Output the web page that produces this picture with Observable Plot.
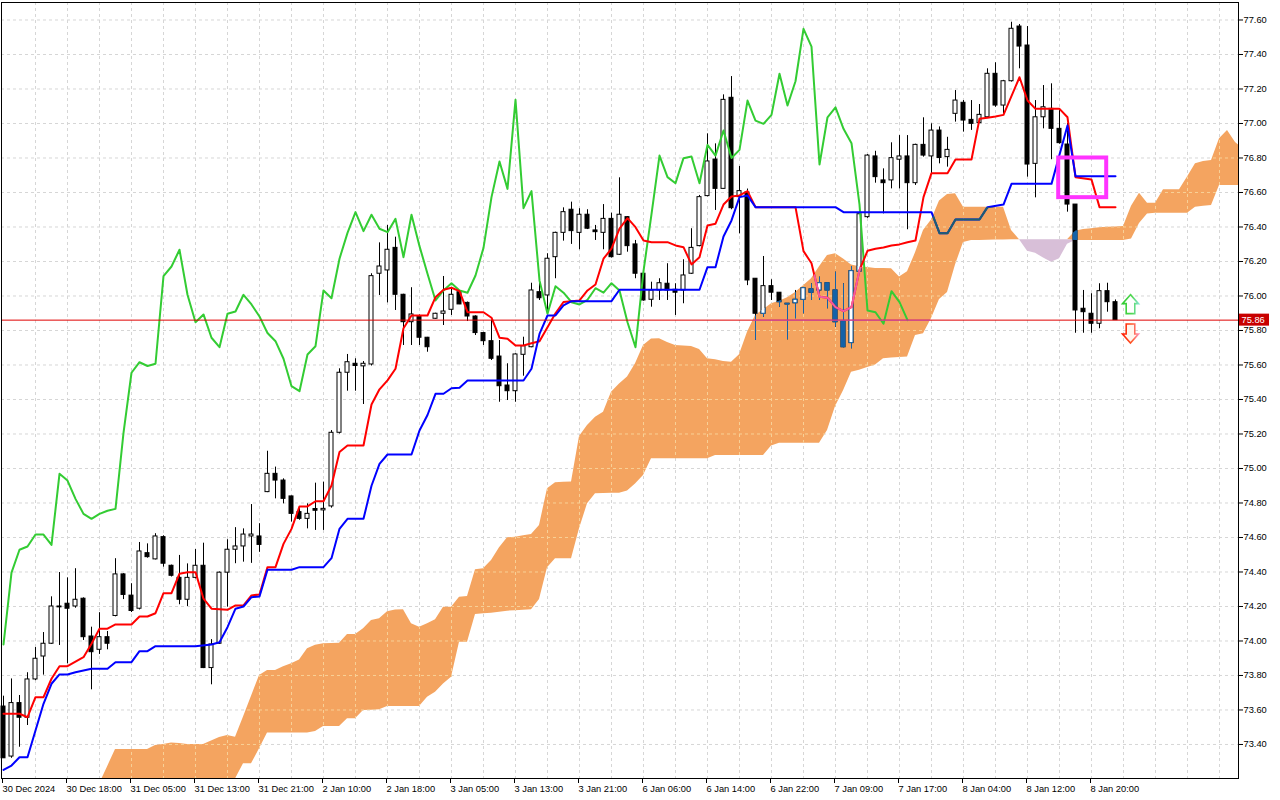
<!DOCTYPE html>
<html><head><meta charset="utf-8">
<script src="https://cdn.jsdelivr.net/npm/d3@7"></script>
<script src="https://cdn.jsdelivr.net/npm/@observablehq/plot@0.6"></script>
<style>html,body{margin:0;padding:0;background:#fff;overflow:hidden}</style>
</head><body><div id="chart"></div>
<script>
// ---- candles (bar index 0..139) ----
const opens = [73.62,73.33,73.64,73.555,73.777,73.91,73.984,74.195,74.216,74.20,
74.245,74.026,73.949,74.022,74.145,74.386,74.263,74.187,74.509,74.473,
74.602,74.436,74.366,74.239,74.366,74.436,73.843,73.984,74.396,74.529,
74.548,74.606,74.606,74.863,74.969,74.93,74.838,74.747,74.708,74.765,
74.757,74.78,75.207,75.555,75.607,75.592,75.603,76.129,76.148,76.279,
76.007,75.848,75.881,75.758,75.868,75.897,75.92,76.022,75.96,75.881,
75.785,75.738,75.649,75.481,75.448,75.659,75.703,76.022,76.003,76.225,
76.366,76.50,76.366,76.471,76.38,76.366,76.447,76.239,76.457,76.299,
76.129,75.978,76.032,76.071,76.036,76.032,76.129,76.289,76.579,76.791,
76.621,77.149,76.573,76.60,76.10,75.897,76.057,76.019,75.955,75.958,
75.978,76.038,76.032,76.074,76.032,75.852,75.727,76.141,76.457,76.809,
76.67,76.67,76.79,76.809,76.654,76.876,76.809,76.959,76.805,77.056,
77.12,77.021,77.002,77.036,77.288,77.104,77.245,77.562,77.452,76.766,
77.036,77.085,76.969,76.878,76.53,75.926,75.897,75.839,76.028,75.964];
const highs = [73.68,73.78,73.684,73.816,73.962,74.049,74.256,74.397,74.366,74.419,
74.25,74.08,74.164,74.055,74.477,74.39,74.332,74.571,74.563,74.622,
74.61,74.44,74.496,74.447,74.53,74.567,74.008,74.40,74.587,74.657,
74.65,74.791,74.68,75.10,75.008,74.94,74.84,74.776,74.795,74.915,
74.921,75.22,75.578,75.661,75.636,75.62,76.129,76.308,76.409,76.341,
76.01,76.048,75.89,75.76,75.90,76.113,76.048,76.03,75.965,75.885,
75.79,75.858,75.742,75.607,75.665,75.761,76.074,76.074,76.245,76.37,
76.511,76.544,76.506,76.50,76.409,76.53,76.48,76.685,76.46,76.322,
76.13,76.08,76.10,76.187,76.071,76.21,76.39,76.583,76.94,76.882,
77.166,77.272,76.751,76.62,76.10,76.229,76.094,76.02,75.955,76.032,
76.05,76.07,76.109,76.075,76.138,76.071,76.171,76.48,76.82,76.839,
76.737,76.888,76.93,76.93,76.88,77.033,76.998,76.98,76.92,77.191,
77.133,77.133,77.11,77.317,77.352,77.25,77.587,77.574,77.562,77.133,
77.22,77.23,77.075,77.00,76.53,76.032,76.013,76.071,76.074,75.977];
const lows = [73.32,73.32,73.384,73.51,73.77,73.802,73.98,73.974,73.868,74.19,
74.003,73.717,73.922,73.949,74.14,74.24,74.165,74.18,74.48,74.47,
74.428,74.371,74.21,74.20,74.36,73.84,73.746,73.98,74.196,74.448,
74.457,74.45,74.514,74.86,74.824,74.795,74.689,74.70,74.65,74.641,
74.641,74.77,75.20,75.448,75.448,75.371,75.594,76.003,75.96,75.916,
75.713,75.713,75.713,75.674,75.865,75.829,75.887,75.95,75.852,75.771,
75.713,75.626,75.384,75.394,75.384,75.535,75.70,75.974,75.897,76.10,
76.318,76.299,76.268,76.385,76.322,76.268,76.22,76.235,76.254,76.10,
75.97,75.935,75.974,75.974,75.887,75.955,76.125,76.285,76.575,76.496,
76.62,76.50,76.36,76.06,75.742,75.877,75.974,75.935,75.746,75.868,
75.897,75.974,75.974,75.926,75.819,75.70,75.694,76.13,76.45,76.654,
76.476,76.621,76.621,76.384,76.641,76.805,76.708,76.766,76.747,77.008,
76.95,76.96,77.0,77.03,77.094,77.056,77.24,77.317,76.689,76.569,
76.969,76.79,76.88,76.486,75.784,75.784,75.784,75.81,75.906,75.86];
const closes = [73.32,73.64,73.555,73.777,73.897,73.984,74.20,74.20,74.187,74.239,
74.022,73.935,74.022,73.984,74.386,74.267,74.174,74.519,74.486,74.606,
74.448,74.378,74.239,74.366,74.436,73.843,73.98,74.396,74.529,74.548,
74.617,74.617,74.557,74.969,74.93,74.824,74.737,74.708,74.737,74.755,
74.766,75.207,75.555,75.616,75.594,75.607,76.115,76.171,76.268,76.007,
75.848,75.893,75.758,75.703,75.897,75.91,76.007,75.951,75.881,75.785,
75.738,75.636,75.477,75.448,75.661,75.709,76.032,75.987,76.216,76.366,
76.486,76.376,76.471,76.39,76.37,76.447,76.225,76.471,76.289,76.129,
75.974,76.032,76.074,76.032,76.019,76.119,76.279,76.573,76.78,76.621,
77.137,76.509,76.608,76.09,75.897,76.057,76.019,75.964,75.951,75.978,
76.045,76.019,76.074,76.032,75.848,75.703,76.144,76.474,76.814,76.689,
76.654,76.799,76.809,76.654,76.876,76.814,76.959,76.80,76.847,77.133,
77.017,76.998,77.05,77.288,77.104,77.245,77.549,77.446,76.762,77.036,
77.094,76.969,76.886,76.53,75.916,75.906,75.839,76.028,75.964,75.86];

// ---- Tenkan-sen [bar, value] ----
const tenkanPts = [[0,73.578],[2,73.578],[3,73.558],[4,73.674],[5,73.674],[6,73.781],[7,73.854],[8,73.854],
[10,73.906],[11,73.984],[12,74.071],[13,74.071],[14,74.096],[16,74.096],[17,74.142],[18,74.142],[19,74.161],
[20,74.277],[21,74.277],[22,74.390],[23,74.399],[24,74.399],[25,74.245],[26,74.187],[28,74.181],[29,74.206],
[30,74.206],[31,74.264],[32,74.270],[33,74.428],[34,74.428],[35,74.563],[36,74.650],[37,74.780],[38,74.780],
[39,74.810],[40,74.810],[41,74.901],[42,75.095],[43,75.133],[45,75.133],[46,75.371],[47,75.459],[48,75.511],
[49,75.578],[50,75.813],[51,75.887],[53,75.887],[54,75.993],[55,76.036],[56,76.048],[57,76.028],[58,75.906],
[60,75.906],[61,75.874],[62,75.758],[63,75.752],[64,75.713],[65,75.713],[66,75.726],[67,75.738],[68,75.819],
[69,75.900],[70,75.965],[71,75.970],[72,75.974],[73,76.032],[74,76.067],[75,76.216],[76,76.274],[77,76.390],
[78,76.451],[79,76.399],[80,76.322],[81,76.312],[83,76.312],[84,76.293],[85,76.283],[86,76.183],[87,76.225],
[88,76.409],[89,76.419],[90,76.530],[91,76.577],[92,76.583],[93,76.608],[94,76.515],[99,76.515],[100,76.26],
[101,76.19],[102,75.995],[103,75.99],[104,75.935],[105,75.912],[106,75.935],[107,76.15],[108,76.262],
[109,76.274],[110,76.281],[111,76.293],[112,76.299],[113,76.312],[114,76.322],[115,76.573],[116,76.712],
[118,76.712],[119,76.791],[121,76.791],[122,77.027],[123,77.033],[124,77.040],[125,77.050],[127,77.268],
[128,77.133],[129,77.085],[132,77.085],[133,77.036],[134,76.689],[136,76.675],[137,76.515],[139,76.515]];

// ---- Kijun-sen [bar, value] ----
const kijunPts = [[0,73.253],[1,73.278],[2,73.326],[3,73.326],[4,73.481],[5,73.636],[6,73.752],[7,73.806],
[8,73.806],[9,73.819],[11,73.839],[13,73.839],[14,73.877],[16,73.877],[17,73.941],[18,73.941],[19,73.970],
[24,73.970],[26,73.980],[27,73.993],[28,74.080],[29,74.187],[30,74.200],[31,74.254],[32,74.258],[33,74.413],
[36,74.413],[37,74.428],[40,74.428],[41,74.480],[42,74.650],[43,74.708],[45,74.708],[46,74.900],[47,75.027],
[48,75.081],[51,75.081],[52,75.22],[53,75.31],[54,75.433],[55,75.433],[56,75.465],[57,75.468],[58,75.510],
[65,75.510],[66,75.578],[67,75.78],[68,75.887],[69,75.887],[70,75.945],[71,75.970],[76,75.970],[77,76.036],
[87,76.036],[88,76.167],[89,76.167],[90,76.345],[91,76.438],[92,76.573],[93,76.583],[94,76.515],[104,76.515],
[105,76.486],[116,76.486],[117,76.364],[118,76.364],[119,76.443],[122,76.443],[123,76.515],[125,76.530],
[126,76.650],[131,76.650],[133,76.988],[134,76.694],[139,76.694]];

// ---- Kumo: Senkou Span A / B, displayed from bar 12 to 155 ----
const cloudStart = 12;
const spanA = [73.17,73.27,73.371,73.371,73.371,73.371,73.371,73.394,
73.40,73.408,73.405,73.40,73.40,73.40,73.42,73.44,73.452,73.442,
73.56,73.68,73.80,73.829,73.829,73.85,73.868,73.89,73.955,73.975,
73.984,73.985,73.987,74.038,74.038,74.071,74.119,74.129,74.17,74.18,
74.181,74.10,74.08,74.10,74.123,74.196,74.196,74.254,74.258,74.413,
74.419,74.467,74.54,74.598,74.602,74.61,74.617,74.67,74.882,74.917,
74.92,74.921,75.186,75.249,75.297,75.326,75.442,75.49,75.53,75.607,
75.713,75.75,75.752,75.73,75.713,75.71,75.707,75.69,75.636,75.63,
75.62,75.616,75.66,75.79,75.887,75.92,75.955,75.97,75.99,76.02,
76.06,76.10,76.17,76.235,76.245,76.215,76.18,76.17,76.165,76.16,
76.16,76.158,76.11,76.14,76.25,76.38,76.44,76.55,76.588,76.592,
76.515,76.515,76.515,76.515,76.515,76.515,76.38,76.326,76.26,76.248,
76.22,76.196,76.216,76.30,76.376,76.385,76.39,76.395,76.399,76.40,
76.403,76.52,76.596,76.538,76.538,76.616,76.616,76.616,76.69,76.766,
76.78,76.786,76.911,76.959,76.89,76.85];
const spanB = [73.0,73.0,73.0,73.0,73.0,73.0,73.0,73.0,
73.0,73.0,73.0,73.0,73.0,73.0,73.0,73.0,73.12,73.20,
73.288,73.288,73.375,73.466,73.466,73.466,73.466,73.466,73.466,73.475,
73.504,73.504,73.504,73.549,73.549,73.597,73.598,73.601,73.62,73.62,
73.62,73.62,73.62,73.674,73.703,73.75,73.79,73.993,73.993,74.154,
74.158,74.161,74.167,74.173,74.176,74.178,74.181,74.24,74.424,74.477,
74.477,74.477,74.65,74.795,74.853,74.855,74.856,74.857,74.87,74.91,
74.96,75.056,75.056,75.056,75.056,75.056,75.056,75.056,75.056,75.075,
75.075,75.075,75.075,75.075,75.075,75.075,75.13,75.147,75.147,75.147,
75.147,75.147,75.147,75.22,75.36,75.45,75.558,75.57,75.585,75.60,
75.636,75.64,75.643,75.646,75.771,75.781,75.87,75.98,76.02,76.18,
76.31,76.322,76.322,76.323,76.324,76.325,76.326,76.326,76.326,76.326,
76.326,76.326,76.326,76.326,76.322,76.322,76.322,76.322,76.322,76.322,
76.322,76.33,76.42,76.476,76.48,76.48,76.48,76.48,76.48,76.515,
76.52,76.525,76.641,76.641,76.641,76.641];

// ---- axes / annotations ----
const xTickBars = [0,8,16,24,32,40,48,56,64,72,80,88,96,104,112,120,128,136];
const xTickLabels = ["30 Dec 2024","30 Dec 18:00","31 Dec 05:00","31 Dec 13:00","31 Dec 21:00",
"2 Jan 10:00","2 Jan 18:00","3 Jan 05:00","3 Jan 13:00","3 Jan 21:00","6 Jan 06:00","6 Jan 14:00",
"6 Jan 22:00","7 Jan 09:00","7 Jan 17:00","8 Jan 04:00","8 Jan 12:00","8 Jan 20:00"];
const yTicks = [73.4,73.6,73.8,74.0,74.2,74.4,74.6,74.8,75.0,75.2,75.4,75.6,75.8,76.0,76.2,76.4,76.6,76.8,77.0,77.2,77.4,77.6];
const lastPrice = 75.86;
const highlightBox = [{x1:131.9, x2:137.9, y1:76.57, y2:76.80}];
const upArrow = {bar:141, price:75.95};
const downArrow = {bar:141, price:75.78};

// ---- tables ----
const candles = opens.map((o, i) => ({i, open:o, high:highs[i], low:lows[i], close:closes[i]}));
const cloud = spanA.map((a, j) => ({k: cloudStart + j, A: a, B: spanB[j]}));
const gridX = d3.range(4, 155, 4);

const FONT = "Liberation Sans, Arial, sans-serif";
const grid = (stroke, extra={}) => [
  Plot.ruleX(gridX, {stroke, strokeDasharray:"3,3", ...extra}),
  Plot.ruleY(yTicks, {stroke, strokeDasharray:"3,3", ...extra})
];
const candleMarks = (col, extra={}) => [
  Plot.ruleX(candles, {x:"i", y1:"low", y2:"high", stroke:col, ...extra}),
  Plot.rect(candles, {x1:d=>d.i-0.25, x2:d=>d.i+0.25, y1:"open", y2:"close",
    fill:d=>d.close>=d.open?"white":col, stroke:col, ...extra})
];
const IN = {ariaDescription:"in-kumo"};

const chart = Plot.plot({
  width:1280, height:800,
  marginLeft:1, marginRight:42, marginTop:2, marginBottom:22,
  x:{domain:[-0.25,154.375], label:null},
  y:{domain:[73.2028,77.7014], label:null},
  style:{fontFamily:FONT, fontSize:"9.3px", background:"white", color:"black", overflow:"visible"},
  marks:[
    ...grid("#d6d6d6"),
    Plot.areaY(cloud, {x:"k", y1:"B", y2:d=>Math.max(d.A,d.B), fill:"#f4a460", clip:true, ariaDescription:"kumo-up"}),
    Plot.areaY(cloud, {x:"k", y1:d=>Math.min(d.A,d.B), y2:"B", fill:"#d8bfd8", clip:true}),
    ...grid("#f8d096", IN),
    ...candleMarks("black"),
    ...candleMarks("#1462a8", IN),
    Plot.line(candles.filter(d=>d.i>=26), {x:d=>d.i-26, y:"close", stroke:"#33cc33", strokeWidth:2}),
    Plot.line(tenkanPts, {x:d=>d[0], y:d=>d[1], stroke:"#ff0000", strokeWidth:2}),
    Plot.line(tenkanPts, {x:d=>d[0], y:d=>d[1], stroke:"#f25ca2", strokeWidth:2, ...IN}),
    Plot.line(kijunPts, {x:d=>d[0], y:d=>d[1], stroke:"#0000ff", strokeWidth:2}),
    Plot.line(kijunPts, {x:d=>d[0], y:d=>d[1], stroke:"#1d5f6e", strokeWidth:2, ...IN}),
    Plot.ruleY([lastPrice], {stroke:"#e00000"}),
    Plot.ruleY([lastPrice], {stroke:"#c855c0", ...IN}),
    Plot.rect(highlightBox, {x1:"x1", x2:"x2", y1:"y1", y2:"y2", fill:"none", stroke:"#ff33ff", strokeWidth:4}),
    Plot.frame({stroke:"black"}),
    Plot.axisY(yTicks, {anchor:"right", tickSize:4, tickPadding:1, tickFormat:d=>d.toFixed(2), label:null}),
    Plot.axisX(xTickBars, {anchor:"bottom", tickSize:5, tickPadding:2, textAnchor:"start", dx:-1,
      tickFormat:d=>xTickLabels[xTickBars.indexOf(d)], label:null})
  ]
});
document.getElementById("chart").appendChild(chart);

// clip the "in-kumo" recoloured copies to the kumo shape
const NS = "http://www.w3.org/2000/svg";
const el = (name, attrs) => { const e = document.createElementNS(NS, name); for (const k in attrs) e.setAttribute(k, attrs[k]); return e; };
let defs = chart.querySelector("defs");
if (!defs) { defs = el("defs", {}); chart.insertBefore(defs, chart.firstChild); }
const cp = el("clipPath", {id:"kumo-clip"});
chart.querySelectorAll('[aria-description="kumo-up"] path').forEach(p => cp.appendChild(el("path", {d: p.getAttribute("d")})));
defs.appendChild(cp);
chart.querySelectorAll('g[aria-description="in-kumo"]').forEach(g => g.setAttribute("clip-path", "url(#kumo-clip)"));

// gradients for the arrow outlines
const grad = (id, stops) => {
  const g = el("linearGradient", {id, x1:"0", y1:"0", x2:"1", y2:"0"});
  stops.forEach(([o, c]) => g.appendChild(el("stop", {offset:o, "stop-color":c})));
  defs.appendChild(g);
};
grad("up-grad", [["0", "#2fcc2f"], ["0.6", "#55d855"], ["1", "#7fe3c8"]]);
grad("dn-grad", [["0", "#ff1a00"], ["0.6", "#ff5a2a"], ["1", "#ff8fb0"]]);

const xs = chart.scale("x"), ys = chart.scale("y");
const overlay = el("g", {"text-anchor":"start"});
// signal arrows (shape in pixels, anchored at bar/price)
{
  const cx = xs.apply(upArrow.bar) - 0.5, cy = ys.apply(upArrow.price);
  const d = `M${cx},${cy-9.5}L${cx+8},${cy-0.5}L${cx+4.3},${cy-0.5}L${cx+4.3},${cy+9.5}L${cx-4.3},${cy+9.5}L${cx-4.3},${cy-0.5}L${cx-8},${cy-0.5}Z`;
  overlay.appendChild(el("path", {d, fill:"white", stroke:"url(#up-grad)", "stroke-width":1.6, "stroke-linejoin":"miter"}));
  overlay.appendChild(el("path", {d, fill:"none", stroke:"#e8f59a", "stroke-width":0.5, transform:`translate(${0},${0})`, opacity:0.0}));
}
{
  const cx = xs.apply(downArrow.bar) - 0.5, cy = ys.apply(downArrow.price);
  const d = `M${cx},${cy+9.5}L${cx+8},${cy+0.5}L${cx+4.3},${cy+0.5}L${cx+4.3},${cy-9.5}L${cx-4.3},${cy-9.5}L${cx-4.3},${cy+0.5}L${cx-8},${cy+0.5}Z`;
  overlay.appendChild(el("path", {d, fill:"#fff6ee", stroke:"url(#dn-grad)", "stroke-width":1.6, "stroke-linejoin":"miter"}));
}
// last price tag on the price axis
{
  const py = ys.apply(lastPrice);
  overlay.appendChild(el("rect", {x:1239, y:py - 6, width:30, height:12, fill:"#c80000"}));
  const t = el("text", {x:1241.5, y:py, dy:"0.35em", fill:"white", "font-family":FONT, "font-size":"9.3px", "text-anchor":"start"});
  t.textContent = lastPrice.toFixed(2);
  overlay.appendChild(t);
}
chart.appendChild(overlay);
</script></body></html>
